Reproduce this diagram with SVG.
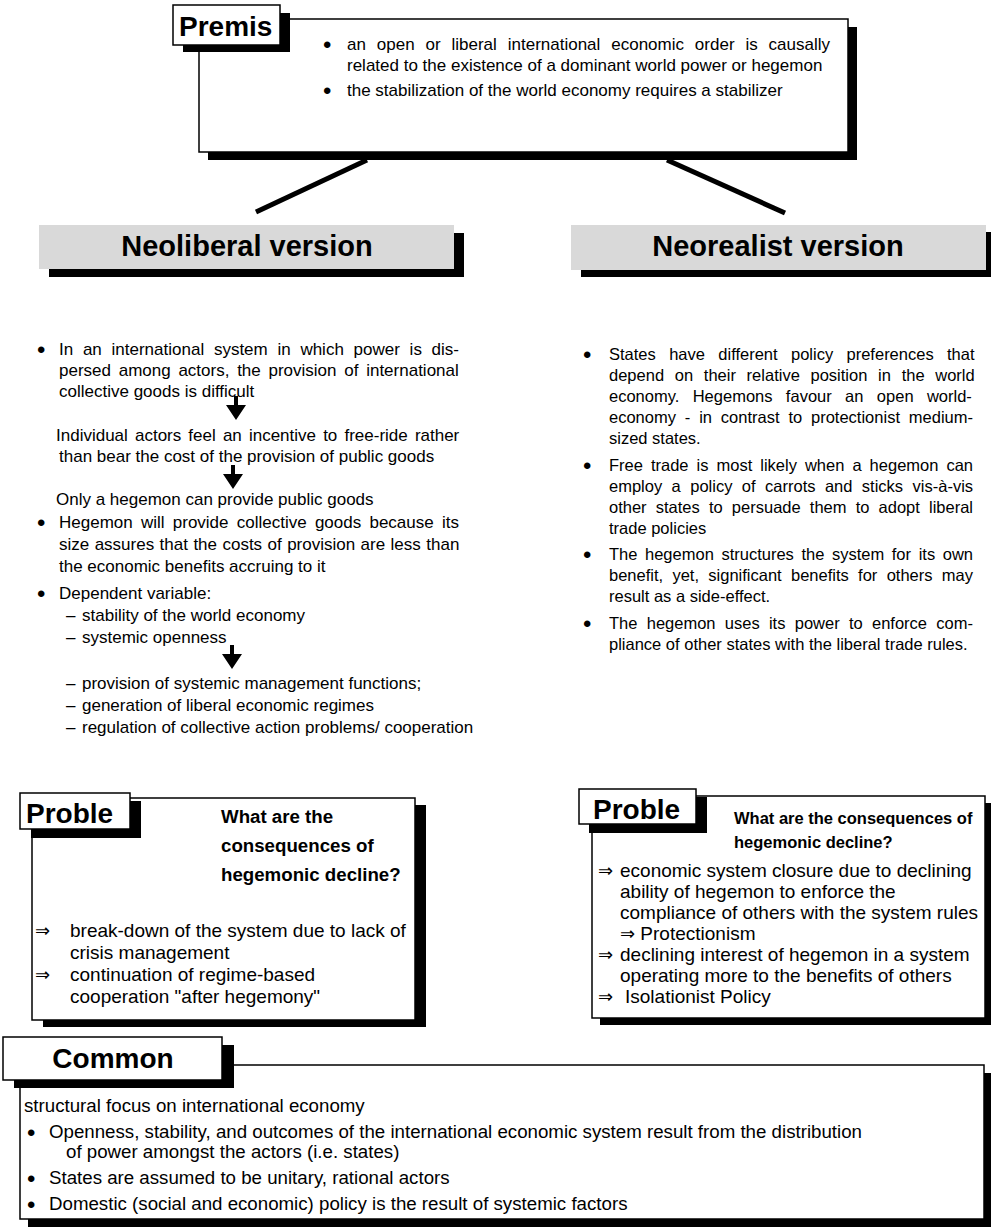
<svg xmlns="http://www.w3.org/2000/svg" width="991" height="1229" viewBox="0 0 991 1229">
  <style>
    text { font-family: "Liberation Sans", Arial, sans-serif; fill: #000; }
    .f17 { font-size: 17px; }
    .f165 { font-size: 16.5px; }
    .f19 { font-size: 19px; }
    .fc { font-size: 18.7px; }
    .tab { font-size: 28px; font-weight: bold; }
    .hdr { font-size: 29px; font-weight: bold; }
    .qh { font-size: 18.7px; font-weight: bold; }
    .qh2 { font-size: 16.5px; font-weight: bold; }
    .bul { font-size: 24px; }
    .sym { font-family: "DejaVu Sans", sans-serif; font-size: 18px; }
    .box { fill: #fff; stroke: #000; stroke-width: 1.5; }
    .shadow { fill: #000; }
    .band { fill: #d9d9d9; }
    .link { stroke: #000; stroke-width: 5; fill: none; }
    .arrow { fill: #000; }
  </style>

  <!-- premise box -->
  <g id="premise">
    <rect class="shadow" x="208" y="27" width="649" height="133"/>
    <rect class="box" x="199" y="19" width="649" height="133"/>
    <rect class="shadow" x="183" y="13" width="107" height="39"/>
    <rect class="box" x="173" y="5" width="107" height="40"/>
    <text class="tab" x="179" y="36">Premis</text>
    <g class="f17">
      <text class="bul" x="323" y="53">•</text>
      <text x="347" y="50" word-spacing="6.16">an open or liberal international economic order is causally</text>
      <text x="347" y="71">related to the existence of a dominant world power or hegemon</text>
      <text class="bul" x="323" y="99">•</text>
      <text x="347" y="96">the stabilization of the world economy requires a stabilizer</text>
    </g>
  </g>

  <!-- column headers -->
  <g id="neoliberal-header">
    <rect class="shadow" x="49" y="233" width="415" height="44"/>
    <rect class="band" x="39" y="225" width="415" height="44"/>
    <text class="hdr" x="247" y="256" text-anchor="middle">Neoliberal version</text>
  </g>
  <g id="neorealist-header">
    <rect class="shadow" x="581" y="232" width="415" height="45"/>
    <rect class="band" x="571" y="225" width="415" height="45"/>
    <text class="hdr" x="778" y="256" text-anchor="middle">Neorealist version</text>
  </g>

  <!-- neoliberal argument -->
  <g id="neoliberal-body" class="f17">
    <text class="bul" x="37" y="358">•</text>
    <text x="59" y="355" word-spacing="5">In an international system in which power is dis-</text>
    <text x="59" y="376" word-spacing="3">persed among actors, the provision of international</text>
    <text x="59" y="397">collective goods is difficult</text>
    <text x="56" y="441" word-spacing="2.4">Individual actors feel an incentive to free-ride rather</text>
    <text x="59" y="462">than bear the cost of the provision of public goods</text>
    <text x="56" y="505">Only a hegemon can provide public goods</text>
    <text class="bul" x="37" y="531">•</text>
    <text x="59" y="528" word-spacing="3.5">Hegemon will provide collective goods because its</text>
    <text x="59" y="550" word-spacing="0.7">size assures that the costs of provision are less than</text>
    <text x="59" y="572">the economic benefits accruing to it</text>
    <text class="bul" x="37" y="602">•</text>
    <text x="59" y="599">Dependent variable:</text>
    <text x="66" y="621">–</text>
    <text x="82" y="621">stability of the world economy</text>
    <text x="66" y="643">–</text>
    <text x="82" y="643">systemic openness</text>
    <text x="66" y="689">–</text>
    <text x="82" y="689">provision of systemic management functions;</text>
    <text x="66" y="711">–</text>
    <text x="82" y="711">generation of liberal economic regimes</text>
    <text x="66" y="733">–</text>
    <text x="82" y="733">regulation of collective action problems/ cooperation</text>
  </g>

  <!-- neorealist argument -->
  <g id="neorealist-body" class="f165">
    <text class="bul" x="583" y="363">•</text>
    <text x="609" y="360" word-spacing="8.78">States have different policy preferences that</text>
    <text x="609" y="381" word-spacing="6.12">depend on their relative position in the world</text>
    <text x="609" y="402" word-spacing="8.8">economy. Hegemons favour an open world-</text>
    <text x="609" y="423" word-spacing="4.27">economy - in contrast to protectionist medium-</text>
    <text x="609" y="444">sized states.</text>
    <text class="bul" x="583" y="474">•</text>
    <text x="609" y="471" word-spacing="3.43">Free trade is most likely when a hegemon can</text>
    <text x="609" y="492" word-spacing="4.85">employ a policy of carrots and sticks vis-à-vis</text>
    <text x="609" y="513" word-spacing="4.57">other states to persuade them to adopt liberal</text>
    <text x="609" y="534">trade policies</text>
    <text class="bul" x="583" y="563">•</text>
    <text x="609" y="560" word-spacing="3">The hegemon structures the system for its own</text>
    <text x="609" y="581" word-spacing="4.72">benefit, yet, significant benefits for others may</text>
    <text x="609" y="602">result as a side-effect.</text>
    <text class="bul" x="583" y="632">•</text>
    <text x="609" y="629" word-spacing="4.7">The hegemon uses its power to enforce com-</text>
    <text x="609" y="650">pliance of other states with the liberal trade rules.</text>
  </g>

  <!-- problem box, neoliberal side -->
  <g id="problem-neoliberal">
    <rect class="shadow" x="43" y="805" width="383" height="222"/>
    <rect class="box" x="32" y="798" width="383" height="222"/>
    <rect class="shadow" x="31" y="801" width="110" height="37"/>
    <rect class="box" x="20" y="793" width="110" height="36"/>
    <text class="tab" x="26" y="823">Proble</text>
    <text class="qh" x="221" y="823">What are the</text>
    <text class="qh" x="221" y="852">consequences of</text>
    <text class="qh" x="221" y="881">hegemonic decline?</text>
    <g class="f19">
      <text class="sym" x="35" y="937">⇒</text>
      <text x="70" y="937">break-down of the system due to lack of</text>
      <text x="70" y="959">crisis management</text>
      <text class="sym" x="35" y="981">⇒</text>
      <text x="70" y="981">continuation of regime-based</text>
      <text x="70" y="1003">cooperation "after hegemony"</text>
    </g>
  </g>

  <!-- problem box, neorealist side -->
  <g id="problem-neorealist">
    <rect class="shadow" x="600" y="803" width="392" height="222"/>
    <rect class="box" x="592" y="796" width="393" height="222"/>
    <rect class="shadow" x="589" y="797" width="118" height="36"/>
    <rect class="box" x="579" y="789" width="117" height="35"/>
    <text class="tab" x="593" y="819">Proble</text>
    <text class="qh2" x="734" y="824">What are the consequences of</text>
    <text class="qh2" x="734" y="848">hegemonic decline?</text>
    <g class="f19">
      <text class="sym" x="598" y="877">⇒</text>
      <text x="620" y="877">economic system closure due to declining</text>
      <text x="620" y="898">ability of hegemon to enforce the</text>
      <text x="620" y="919">compliance of others with the system rules</text>
      <text x="620" y="940"><tspan class="sym">⇒</tspan> Protectionism</text>
      <text class="sym" x="598" y="961">⇒</text>
      <text x="620" y="961">declining interest of hegemon in a system</text>
      <text x="620" y="982">operating more to the benefits of others</text>
      <text class="sym" x="598" y="1003">⇒</text>
      <text x="625" y="1003">Isolationist Policy</text>
    </g>
  </g>

  <!-- shared assumptions -->
  <g id="common">
    <rect class="shadow" x="28" y="1073" width="964" height="154"/>
    <rect class="box" x="20" y="1065" width="964" height="154"/>
    <rect class="shadow" x="14" y="1045" width="220" height="43"/>
    <rect class="box" x="3" y="1037" width="219" height="43"/>
    <text class="tab" x="113" y="1068" text-anchor="middle">Common</text>
    <g class="fc">
      <text x="24" y="1112">structural focus on international economy</text>
      <text class="bul" x="27" y="1141">•</text>
      <text x="49" y="1138">Openness, stability, and outcomes of the international economic system result from the distribution</text>
      <text x="66" y="1158">of power amongst the actors (i.e. states)</text>
      <text class="bul" x="27" y="1187">•</text>
      <text x="49" y="1184">States are assumed to be unitary, rational actors</text>
      <text class="bul" x="27" y="1213">•</text>
      <text x="49" y="1210">Domestic (social and economic) policy is the result of systemic factors</text>
    </g>
  </g>

  <!-- connectors: premise to both versions, and the causal arrows -->
  <g id="connectors">
    <line class="link" x1="367" y1="160" x2="256" y2="212"/>
    <line class="link" x1="667" y1="160" x2="785" y2="213"/>
    <path class="arrow" d="M234 396 h4 v9 h8 l-10 15 l-10 -15 h8 z"/>
    <path class="arrow" d="M231 465 h4 v9 h8 l-10 15 l-10 -15 h8 z"/>
    <path class="arrow" d="M230 645 h4 v9 h8 l-10 15 l-10 -15 h8 z"/>
  </g>
</svg>
